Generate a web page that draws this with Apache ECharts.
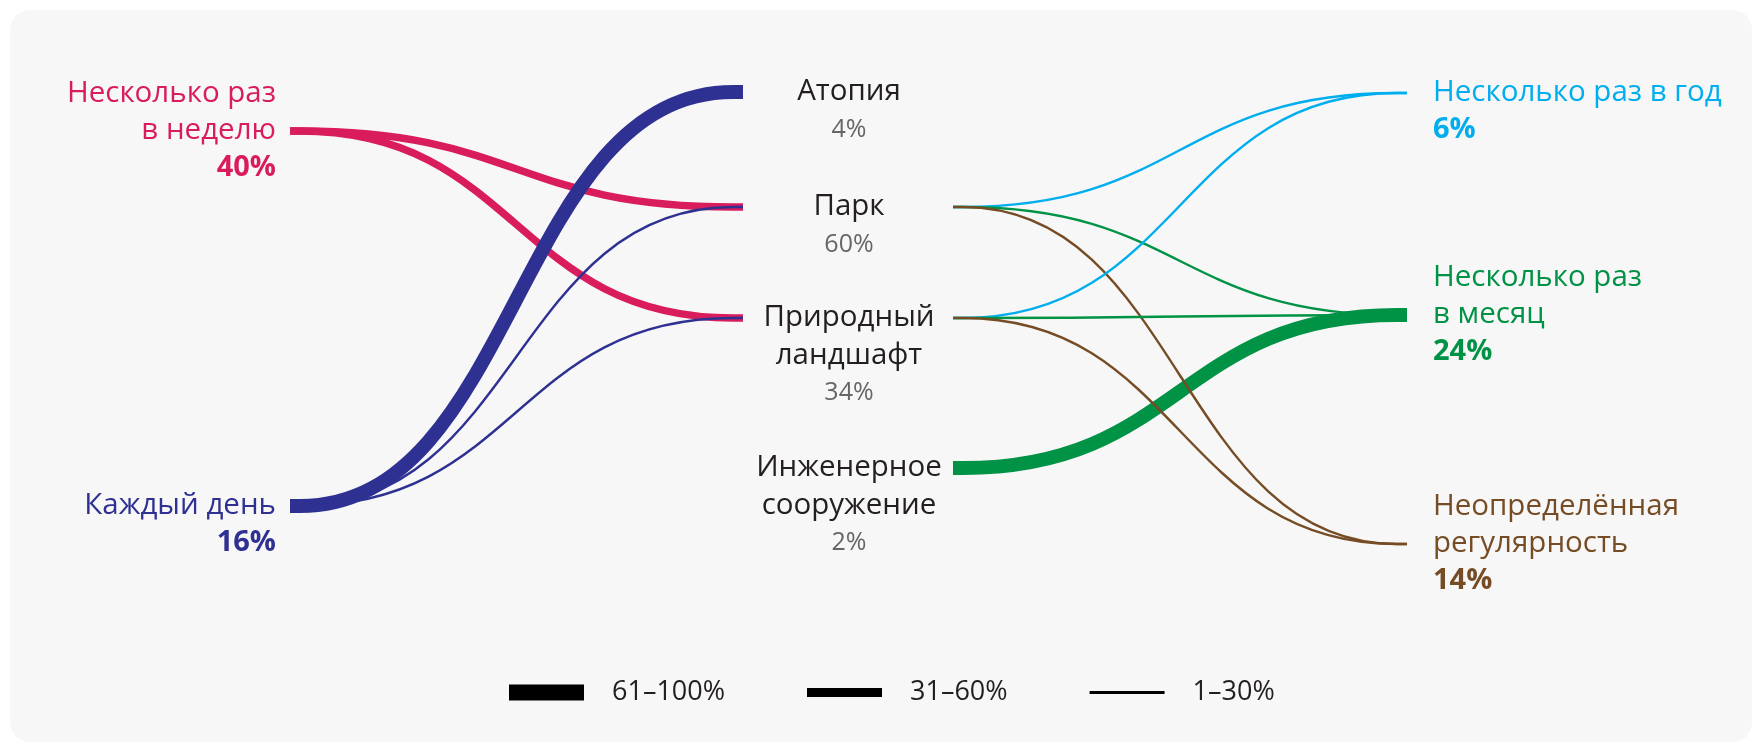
<!DOCTYPE html>
<html><head><meta charset="utf-8">
<script src="https://cdn.jsdelivr.net/npm/echarts@6/dist/echarts.min.js"></script>
<style>html,body{margin:0;padding:0;background:#fff}#c{width:1761px;height:745px}</style>
</head><body><div id="c"></div>
<script>
// ---- data ----
const leftNames = ['Несколько раз\nв неделю', 'Каждый день'];
const leftShares = [40, 16];
const midNames = ['Атопия', 'Парк', 'Природный\nландшафт', 'Инженерное\nсооружение'];
const midShares = [4, 60, 34, 2];
const rightNames = ['Несколько раз в год', 'Несколько раз\nв месяц', 'Неопределённая\nрегулярность'];
const rightShares = [6, 24, 14];
const bandLabels = ['61–100%', '31–60%', '1–30%'];
// flows: [source index, target index, band index]
const leftFlows = [[0, 1, 1], [0, 2, 1], [1, 0, 0], [1, 1, 2], [1, 2, 2]];
const rightFlows = [[1, 0, 2], [1, 1, 2], [1, 2, 2], [2, 0, 2], [2, 1, 2], [2, 2, 2], [3, 1, 0]];

// ---- style / layout ----
const leftColors = ['#d91c5c', '#2e3192'];
const rightColors = ['#00aeef', '#009245', '#754c24'];
const L = {
  xLeft: 290, xMidIn: 743, xMidOut: 953, xRight: 1407, xMidText: 849,
  leftY: [131, 506], midY: [92, 207, 318, 468], rightY: [93, 315, 544],
  stub: 10, curv: 0.5, lineH: 37.5, widths: [14, 7.5, 2.4], bandZ: [2, 1, 3]
};
const FONT = '"Open Sans", "Noto Sans", sans-serif';
const NAME_SIZE = 29.5;

// build link objects per band
const bandLinks = [[], [], []];
leftFlows.forEach(([s, t, b]) => bandLinks[b].push({
  x0: L.xLeft, y0: L.leftY[s], x1: L.xMidIn, y1: L.midY[t], color: leftColors[s], w: L.widths[b]
}));
rightFlows.forEach(([s, t, b]) => bandLinks[b].push({
  x0: L.xMidOut, y0: L.midY[s], x1: L.xRight, y1: L.rightY[t], color: rightColors[t], w: L.widths[b]
}));

function linkSeries(b) {
  const links = bandLinks[b];
  return {
    type: 'custom', name: bandLabels[b], coordinateSystem: 'cartesian2d', silent: true,
    z: L.bandZ[b], itemStyle: { color: '#000' },
    data: links.map(l => [l.x0, l.y0]),
    renderItem(params, api) {
      const l = links[params.dataIndex];
      const p0 = api.coord([l.x0, l.y0]);
      const a = api.coord([l.x0 + L.stub, l.y0]);
      const bb = api.coord([l.x1 - L.stub, l.y1]);
      const p3 = api.coord([l.x1, l.y1]);
      const c = (bb[0] - a[0]) * L.curv;
      const d = `M${p0[0]} ${p0[1]}L${a[0]} ${a[1]}C${a[0] + c} ${a[1]} ${bb[0] - c} ${bb[1]} ${bb[0]} ${bb[1]}L${p3[0]} ${p3[1]}`;
      return { type: 'path', shape: { pathData: d }, style: { fill: 'none', stroke: l.color, lineWidth: l.w, lineCap: 'butt' } };
    }
  };
}

// node label entries
const nodes = [];
leftNames.forEach((n, i) => nodes.push({ side: 'left', name: n, share: leftShares[i], color: leftColors[i], x: L.xLeft - 14, y: L.leftY[i] }));
midNames.forEach((n, i) => nodes.push({ side: 'mid', name: n, share: midShares[i], color: '#231f20', x: L.xMidText, y: L.midY[i] }));
rightNames.forEach((n, i) => nodes.push({ side: 'right', name: n, share: rightShares[i], color: rightColors[i], x: L.xRight + 26, y: L.rightY[i] }));

const labelSeries = {
  type: 'custom', name: 'labels', coordinateSystem: 'cartesian2d', silent: true, z: 5,
  data: nodes.map(n => [n.x, n.y]),
  renderItem(params, api) {
    const n = nodes[params.dataIndex];
    const p = api.coord([n.x, n.y]);
    const lines = n.name.split('\n');
    const align = n.side === 'left' ? 'right' : (n.side === 'right' ? 'left' : 'center');
    const children = [];
    const firstOffset = n.side === 'mid' ? 0 : -(lines.length - 1);
    lines.forEach((t, i) => children.push({
      type: 'text', style: {
        text: t, x: p[0], y: p[1] + (firstOffset + i) * L.lineH, fill: n.color,
        fontSize: NAME_SIZE, fontFamily: FONT, align, verticalAlign: 'middle'
      }
    }));
    const pctY = p[1] + (firstOffset + lines.length) * L.lineH;
    if (n.side === 'mid') {
      children.push({ type: 'text', style: { text: n.share + '%', x: p[0], y: pctY, fill: '#666666', fontSize: 25, fontFamily: FONT, align, verticalAlign: 'middle' } });
    } else {
      children.push({ type: 'text', style: { text: n.share + '%', x: p[0], y: pctY - 1, fill: n.color, fontSize: 29, fontWeight: 'bold', fontFamily: FONT, align, verticalAlign: 'middle' } });
    }
    return { type: 'group', children };
  }
};

const chart = echarts.init(document.getElementById('c'), null, { renderer: 'canvas' });
chart.setOption({
  animation: false,
  backgroundColor: '#ffffff',
  graphic: [{ type: 'rect', left: 10, top: 10, z: -10, shape: { width: 1742, height: 732, r: 20 }, style: { fill: '#f7f7f7' } }],
  grid: { left: 0, right: 0, top: 0, bottom: 0 },
  xAxis: { type: 'value', min: 0, max: 1761, show: false },
  yAxis: { type: 'value', min: 0, max: 745, inverse: true, show: false },
  legend: {
    left: 509, top: 679, padding: 0, itemWidth: 75, itemHeight: 16, itemGap: 82,
    selectedMode: false,
    textStyle: { fontSize: 27, color: '#231f20', fontFamily: FONT, padding: [0, 0, 0, 23] },
    data: [
      { name: bandLabels[0], icon: 'path://M0 0H75V16H0Z', itemStyle: { color: '#000' } },
      { name: bandLabels[1], icon: 'path://M0 0H75V9H0Z', itemStyle: { color: '#000' } },
      { name: bandLabels[2], icon: 'path://M0 0H75V3H0Z', itemStyle: { color: '#000' } }
    ]
  },
  series: [linkSeries(0), linkSeries(1), linkSeries(2), labelSeries]
});
</script></body></html>
